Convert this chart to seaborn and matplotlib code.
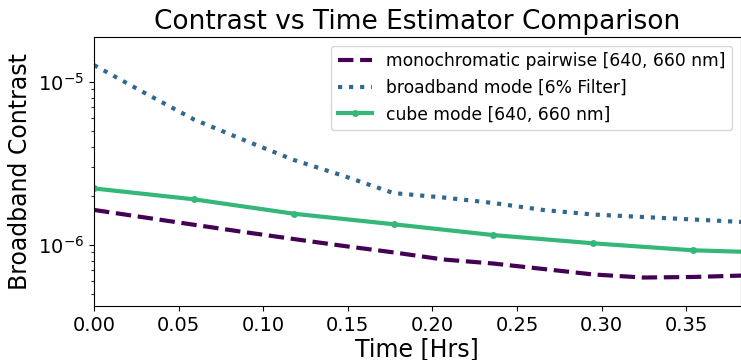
import numpy as np
import pandas as pd
import matplotlib
matplotlib.use("Agg")
import matplotlib.pyplot as plt
import seaborn as sns

# Data
time_fine = [0.0, 0.0295, 0.059, 0.0885, 0.118, 0.1475, 0.177, 0.2065,
             0.236, 0.2655, 0.295, 0.3245, 0.354, 0.3835]
mono_pairwise = [1.64e-6, 1.477e-6, 1.331e-6, 1.201e-6, 1.088e-6, 9.87e-7, 9.01e-7,
                 8.15e-7, 7.70e-7, 7.13e-7, 6.60e-7, 6.32e-7, 6.37e-7, 6.50e-7]
broadband_mode = [1.265e-5, 8.59e-6, 5.88e-6, 4.40e-6, 3.32e-6, 2.65e-6, 2.08e-6,
                  1.954e-6, 1.808e-6, 1.638e-6, 1.537e-6, 1.484e-6, 1.433e-6, 1.383e-6]
time_cube = [0.0, 0.059, 0.118, 0.177, 0.236, 0.295, 0.354, 0.413]
cube_mode = [2.22e-6, 1.905e-6, 1.555e-6, 1.34e-6, 1.15e-6, 1.024e-6, 9.28e-7, 8.9e-7]

labels = ["monochromatic pairwise [640, 660 nm]",
          "broadband mode [6% Filter]",
          "cube mode [640, 660 nm]"]

colors = plt.cm.viridis(np.linspace(0, 1, 4))[:3]

fig = plt.figure(figsize=(7.41, 3.60), dpi=100)
ax = fig.add_axes([94 / 741, 1 - 306 / 360, 646.5 / 741, (306 - 37) / 360])

df_mono = pd.DataFrame({"t": time_fine, "c": mono_pairwise})
df_bb = pd.DataFrame({"t": time_fine, "c": broadband_mode})
df_cube = pd.DataFrame({"t": time_cube, "c": cube_mode})

sns.lineplot(data=df_mono, x="t", y="c", ax=ax, color=colors[0], lw=3,
             linestyle="--", label=labels[0])
sns.lineplot(data=df_bb, x="t", y="c", ax=ax, color=colors[1], lw=3,
             linestyle=":", label=labels[1])
sns.lineplot(data=df_cube, x="t", y="c", ax=ax, color=colors[2], lw=3,
             marker="o", markersize=5, markeredgewidth=0, label=labels[2])

ax.set_yscale("log")
ax.set_xlim(0, 0.382)
ax.set_ylim(4.23e-7, 1.88e-5)
ax.set_title("Contrast vs Time Estimator Comparison", fontsize=19)
ax.set_xlabel("Time [Hrs]", fontsize=17, labelpad=2)
ax.set_ylabel("Broadband Contrast", fontsize=17)
ax.tick_params(axis="both", which="major", labelsize=14)
ax.legend(loc="upper right", fontsize=12.3, frameon=True)

fig.savefig("out.png", dpi=100)
